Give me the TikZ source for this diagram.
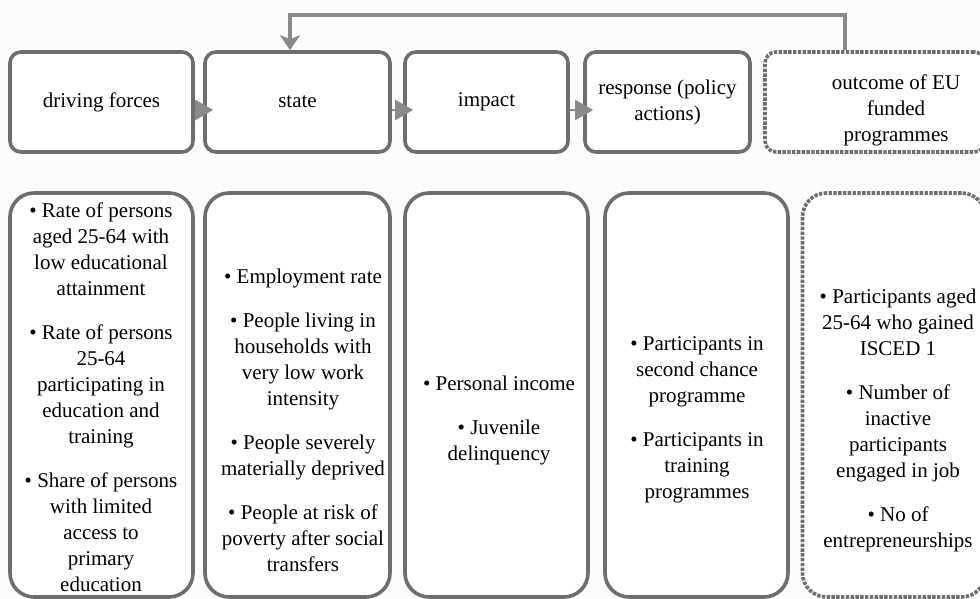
\documentclass[tikz,border=0pt]{standalone}
\usepackage{fontspec}
\setmainfont{Liberation Serif}
\newfontfamily\diagfont{Liberation Serif}
\usetikzlibrary{arrows.meta}
\definecolor{FrameGray}{HTML}{6E6E6E}
\definecolor{LinkGray}{HTML}{8A8A8A}
\definecolor{PaperTint}{HTML}{FCFCFC}
\tikzset{
  every node/.style={font=\diagfont\fontsize{21}{26}\selectfont, text=black},
  stage/.style={draw=FrameGray, line width=3.6pt, rounded corners=11pt, fill=white, inner sep=0pt, align=center, minimum height=100pt},
  indicators/.style={draw=FrameGray, line width=3.6pt, rounded corners=24pt, fill=white, inner sep=0pt, minimum height=404pt},
  funded/.style={dash pattern=on 3.4pt off 1.4pt},
  itemlist/.style={align=center, inner sep=0pt},
  chain/.style={-{Triangle[length=18pt,width=20pt]}, draw=LinkGray, fill=LinkGray, line width=2pt, shorten >=-10pt},
  feedback/.style={-{Stealth[length=15pt,width=20pt,inset=4pt]}, draw=LinkGray, line width=3.5pt},
}

\begin{document}
\begin{tikzpicture}[x=1pt,y=1pt]
  \fill[PaperTint] (0,0) rectangle (980,599);
  \useasboundingbox (0,0) rectangle (980,599);
  \clip (0,0) rectangle (980,599);
  % top row: the stages
  \node[stage, minimum width=183pt] (df) at (101.5,497) {driving forces};
  \node[stage, minimum width=185pt] (st) at (297.5,497) {state};
  \node[stage, minimum width=163pt] (im) at (486.5,497) {impact};
  \node[stage, minimum width=165pt] (rs) at (667.5,497) {response (policy\\actions)};
  \node[stage, funded, minimum width=220pt] (oc) at (875,497) {};
  \node[itemlist] (ocText) at (896,489) {outcome of EU\\funded\\programmes};
  \draw[chain] ([yshift=-8pt]df.east) -- ([yshift=-8pt]st.west);
  \draw[chain] ([yshift=-8pt]st.east) -- ([yshift=-8pt]im.west);
  \draw[chain] ([yshift=-8pt]im.east) -- ([yshift=-8pt]rs.west);
  \draw[feedback] ([xshift=-30pt]oc.north) -- ++(0,35) -| ([xshift=-7.5pt]st.north);
  % bottom row: the indicators
  \node[indicators, minimum width=183pt] (dfl) at (101.5,204) {};
  \node[indicators, minimum width=185pt] (stl) at (297.5,204) {};
  \node[indicators, minimum width=183pt] (iml) at (496.5,204) {};
  \node[indicators, minimum width=183pt] (rsl) at (696.5,204) {};
  \node[indicators, funded, minimum width=183pt] (ocl) at (894,204) {};
  \node[itemlist] (dfItems) at (101,202) {\textbullet\ Rate of persons\\aged 25-64 with\\low educational\\attainment\\[18pt]
    \textbullet\ Rate of persons\\25-64\\participating in\\education and\\training\\[18pt]
    \textbullet\ Share of persons\\with limited\\access to\\primary\\education};
  \node[itemlist] (stItems) at (303,179) {\textbullet\ Employment rate\\[18pt]
    \textbullet\ People living in\\households with\\very low work\\intensity\\[18pt]
    \textbullet\ People severely\\materially deprived\\[18pt]
    \textbullet\ People at risk of\\poverty after social\\transfers};
  \node[itemlist] (imItems) at (499,179) {\textbullet\ Personal income\\[18pt]
    \textbullet\ Juvenile\\delinquency};
  \node[itemlist] (rsItems) at (697,179) {\textbullet\ Participants in\\second chance\\programme\\[18pt]
    \textbullet\ Participants in\\training\\programmes};
  \node[itemlist] (ocItems) at (898,179) {\textbullet\ Participants aged\\25-64 who gained\\ISCED 1\\[18pt]
    \textbullet\ Number of\\inactive\\participants\\engaged in job\\[18pt]
    \textbullet\ No of\\entrepreneurships};
\end{tikzpicture}
\end{document}
